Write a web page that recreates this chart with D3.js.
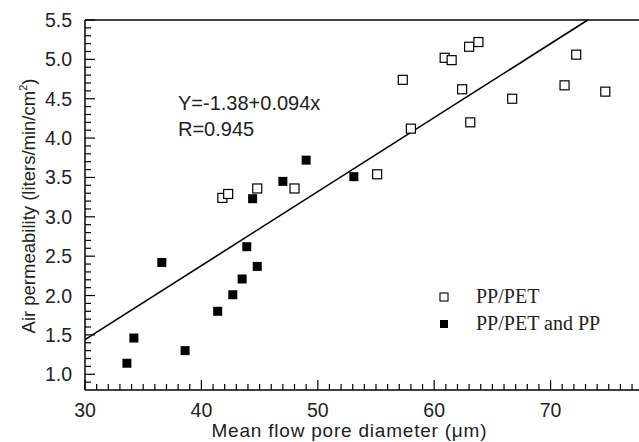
<!DOCTYPE html>
<html><head><meta charset="utf-8">
<script src="https://cdn.jsdelivr.net/npm/d3@7"></script>
<style>body{margin:0;background:#fff}svg{display:block}</style>
</head><body>
<svg id="c" width="639" height="442"></svg>
<script>
const ppPetX = [41.8,42.3,44.8,48.0,55.1,57.3,58.0,60.9,61.5,62.4,63.0,63.1,63.8,66.7,71.2,72.2,74.7];
const ppPetY = [3.24,3.29,3.36,3.36,3.54,4.74,4.12,5.02,4.99,4.62,5.16,4.20,5.22,4.50,4.67,5.06,4.59];
const mixX = [33.6,34.2,36.6,38.6,41.4,42.7,43.5,43.9,44.4,44.8,47.0,49.0,53.1];
const mixY = [1.14,1.46,2.42,1.30,1.80,2.01,2.21,2.62,3.23,2.37,3.45,3.72,3.51];
const fitA = -1.38, fitB = 0.094;
const xTicks = [30,40,50,60,70];
const yTicks = [1.0,1.5,2.0,2.5,3.0,3.5,4.0,4.5,5.0,5.5];
const legendLabels = ["PP/PET","PP/PET and PP"];

const svg = d3.select("#c");
const x = d3.scaleLinear().domain([30,78]).range([85,643.7]);
const y = d3.scaleLinear().domain([0.8,5.5]).range([390,20]);
const sans = "'Liberation Sans', Arial, sans-serif";
const serif = "'Liberation Serif', 'Times New Roman', serif";

// axes lines
svg.append("line").attr("x1",85).attr("x2",639).attr("y1",390).attr("y2",390).attr("stroke","#000").attr("stroke-width",1.5);
svg.append("line").attr("x1",85).attr("x2",85).attr("y1",20).attr("y2",390).attr("stroke","#000").attr("stroke-width",1.5);
svg.append("line").attr("x1",85).attr("x2",639).attr("y1",20).attr("y2",20).attr("stroke","#000").attr("stroke-width",1.5);

// x ticks
const xMinor = d3.range(31,78,1).filter(v=>v%10!==0);
const gx = svg.append("g");
gx.selectAll("line.mj").data(xTicks).join("line").attr("x1",d=>x(d)).attr("x2",d=>x(d)).attr("y1",390).attr("y2",380).attr("stroke","#000").attr("stroke-width",1.2);
gx.selectAll("line.mn").data(xMinor).join("line").attr("x1",d=>x(d)).attr("x2",d=>x(d)).attr("y1",390).attr("y2",384).attr("stroke","#000").attr("stroke-width",1.2);
gx.selectAll("text").data(xTicks).join("text").attr("x",d=>x(d)).attr("y",417).attr("text-anchor","middle")
  .attr("font-family",sans).attr("font-size",19.5).attr("fill","#222").text(d=>d);

// y ticks
const yMinor = d3.range(9,55,1).map(v=>v/10).filter(v=>Math.round(v*10)%5!==0);
const gy = svg.append("g");
gy.selectAll("line.mj").data(yTicks).join("line").attr("x1",85).attr("x2",95).attr("y1",d=>y(d)).attr("y2",d=>y(d)).attr("stroke","#000").attr("stroke-width",1.2);
gy.selectAll("line.mn").data(yMinor).join("line").attr("x1",85).attr("x2",91).attr("y1",d=>y(d)).attr("y2",d=>y(d)).attr("stroke","#000").attr("stroke-width",1.2);
gy.selectAll("text").data(yTicks).join("text").attr("x",72).attr("y",d=>y(d)+7).attr("text-anchor","end")
  .attr("font-family",sans).attr("font-size",19.5).attr("fill","#222").text(d=>d.toFixed(1));

// axis titles
svg.append("text").attr("x",349).attr("y",437).attr("text-anchor","middle").attr("font-family",sans).attr("font-size",19).attr("fill","#222")
  .attr("textLength",275).attr("lengthAdjust","spacing")
  .text("Mean flow pore diameter (\u03bcm)");
const yt = svg.append("text").attr("transform","translate(35,206) rotate(-90)").attr("text-anchor","middle").attr("font-family",sans).attr("font-size",18.5).attr("fill","#222");
yt.append("tspan").text("Air permeability (liters/min/cm");
yt.append("tspan").attr("font-size",11).attr("dy",-8).text("2");
yt.append("tspan").attr("dy",8).text(")");

// fit line
const xEnd = (5.5 - fitA)/fitB;
svg.append("line").attr("x1",x(30)).attr("y1",y(fitA+fitB*30)).attr("x2",x(xEnd)).attr("y2",y(5.5))
  .attr("stroke","#000").attr("stroke-width",1.6);

// points
const s = 9;
svg.append("g").selectAll("rect").data(d3.zip(ppPetX,ppPetY)).join("rect")
  .attr("x",d=>x(d[0])-s/2).attr("y",d=>y(d[1])-s/2).attr("width",s).attr("height",s)
  .attr("fill","#fff").attr("stroke","#000").attr("stroke-width",1.2);
svg.append("g").selectAll("rect").data(d3.zip(mixX,mixY)).join("rect")
  .attr("x",d=>x(d[0])-s/2).attr("y",d=>y(d[1])-s/2).attr("width",s).attr("height",s)
  .attr("fill","#000");

// equation text
svg.append("text").attr("x",178).attr("y",110).attr("font-family",sans).attr("font-size",20).attr("fill","#222").text("Y=-1.38+0.094x");
svg.append("text").attr("x",178).attr("y",136).attr("font-family",sans).attr("font-size",20).attr("fill","#222").text("R=0.945");

// legend
const ls = 8;
svg.append("rect").attr("x",444-ls/2).attr("y",297-ls/2).attr("width",ls).attr("height",ls).attr("fill","#fff").attr("stroke","#000").attr("stroke-width",1.1);
svg.append("rect").attr("x",444-ls/2).attr("y",324-ls/2).attr("width",ls).attr("height",ls).attr("fill","#000");
svg.append("text").attr("x",476).attr("y",303).attr("font-family",serif).attr("font-size",20).attr("fill","#222").text(legendLabels[0]);
svg.append("text").attr("x",476).attr("y",330).attr("font-family",serif).attr("font-size",20).attr("fill","#222").text(legendLabels[1]);
</script>
</body></html>
